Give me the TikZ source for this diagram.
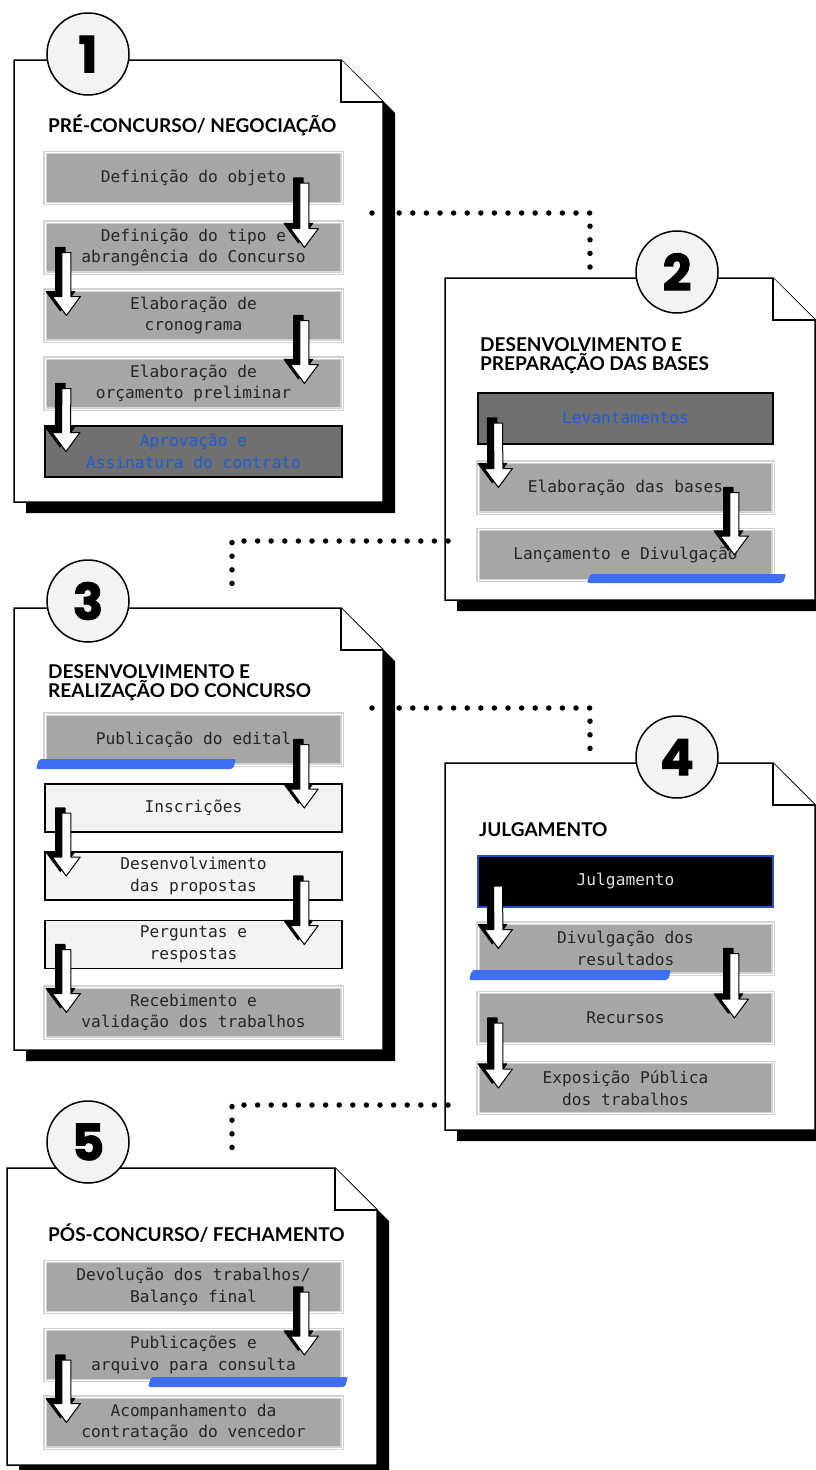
\documentclass[tikz,border=0pt]{standalone}
\usepackage{fontspec}
\usetikzlibrary{calc}
\newfontfamily\boxfont{DejaVu Sans Mono}
\newfontfamily\titlefont{Lato}
\newfontfamily\numfont{Poppins}
\definecolor{boxgray}{HTML}{A6A6A6}
\definecolor{edgegray}{HTML}{D2D2D2}
\definecolor{boxdark}{HTML}{707070}
\definecolor{boxlight}{HTML}{F3F3F3}
\definecolor{ringfill}{HTML}{F3F3F3}
\definecolor{textblue}{HTML}{1F5FD6}
\definecolor{markblue}{HTML}{3D6EF4}
\definecolor{lineblue}{HTML}{2451C4}

\newcommand{\arrowpath}[2]{($(top)+(#1-4.5,#2)$) -- ($(top)+(#1+4.5,#2)$)
  -- ($(tip)+(#1+4.5,#2-19)$) -- ($(tip)+(#1+14,#2-19)$) -- ($(tip)+(#1,#2)$)
  -- ($(tip)+(#1-14,#2-19)$) -- ($(tip)+(#1-4.5,#2-19)$) -- cycle}

\begin{document}
\begin{tikzpicture}[x=1pt,y=-1pt,
    frame/.style={fill=white,draw=black,line width=1.5,line join=miter},
    frame shadow/.style={fill=black},
    stage number/.style={circle,draw=black,line width=1.5,fill=ringfill,minimum size=82,inner sep=0,
        font=\numfont\bfseries\fontsize{50}{50}\selectfont\addfontfeature{FakeBold=2}},
    stage title/.style={anchor=south west,align=left,inner sep=0,text depth=0pt,
        font=\titlefont\bfseries\fontsize{19}{19}\selectfont},
    stage box/.style={rectangle,minimum width=297,minimum height=51,inner sep=0,align=center,
        text=black!85,font=\boxfont\fontsize{16.2}{21.5}\selectfont},
    gray box/.style={stage box,fill=boxgray,draw=edgegray,double=white,double distance=1,line width=1.2},
    dark box/.style={stage box,fill=boxdark,draw=black,line width=2,text=textblue},
    light box/.style={stage box,fill=boxlight,draw=black,line width=1.5,minimum height=48},
    blue box/.style={stage box,fill=black,draw=lineblue,line width=2,text=white!88!black},
    flow arrow/.style={fill=white,draw=black,line width=1,line join=round},
    flow shadow/.style={fill=black,draw=black,line width=1.5,line join=round},
    flow dots/.style={line width=5.5,line cap=round,dash pattern=on 0pt off 13.6pt},
    highlight/.style={fill=markblue,rounded corners=2}]

    \useasboundingbox (0,0) rectangle (816,1470);

    \foreach \l/\t/\r/\b in {14/60/383/502, 445/278/815/600, 14/608/383/1050, 445/763/815/1130, 7/1168/377/1465}{
        \fill[frame shadow] (\l+12,\t+11) -- (\r-30,\t+11) -- (\r+12,\t+53) -- (\r+12,\b+11) -- (\l+12,\b+11) -- cycle;
        \draw[frame] (\l,\t) -- (\r-42,\t) -- (\r,\t+42) -- (\r,\b) -- (\l,\b) -- cycle;
        \draw[frame] (\r-42,\t) -- (\r-42,\t+42) -- (\r,\t+42);
    }

    \node[stage number] (n1) at (88,54) {1};
    \node[stage number] (n2) at (677,272) {2};
    \node[stage number] (n3) at (88,601) {3};
    \node[stage number] (n4) at (677,757) {4};
    \node[stage number] (n5) at (88,1142) {5};

    \node[stage title] (t1) at (48,133) {PRÉ-CONCURSO/ NEGOCIAÇÃO};
    \node[stage title] (t2) at (480,371) {DESENVOLVIMENTO E\\PREPARAÇÃO DAS BASES};
    \node[stage title] (t3) at (48,698) {DESENVOLVIMENTO E\\REALIZAÇÃO DO CONCURSO};
    \node[stage title] (t4) at (479,837) {JULGAMENTO};
    \node[stage title] (t5) at (48,1242) {PÓS-CONCURSO/ FECHAMENTO};

    \node[gray box] (b11) at (193.5,178) {Definição do objeto};
    \node[gray box] (b12) at (193.5,247.5) {Definição do tipo e\\abrangência do Concurso};
    \node[gray box] (b13) at (193.5,315.5) {Elaboração de\\cronograma};
    \node[gray box] (b14) at (193.5,383.5) {Elaboração de\\orçamento preliminar};
    \node[dark box] (b15) at (193.5,451.5) {Aprovação e\\Assinatura do contrato};

    \node[dark box, minimum width=295] (b21) at (625.5,418) {Levantamentos};
    \node[gray box, minimum width=295] (b22) at (625.5,487.5) {Elaboração das bases};
    \node[gray box, minimum width=295] (b23) at (625.5,555) {Lançamento e Divulgação};

    \node[gray box] (b31) at (193.5,739.5) {Publicação do edital};
    \node[light box] (b32) at (193.5,808) {Inscrições};
    \node[light box] (b33) at (193.5,876) {Desenvolvimento\\das propostas};
    \node[light box] (b34) at (193.5,944.5) {Perguntas e\\respostas};
    \node[gray box] (b35) at (193.5,1012.5) {Recebimento e\\validação dos trabalhos};

    \node[blue box, minimum width=295] (b41) at (625.5,881) {Julgamento};
    \node[gray box, minimum width=295] (b42) at (625.5,948.5) {Divulgação dos\\resultados};
    \node[gray box, minimum width=295] (b43) at (625.5,1018) {Recursos};
    \node[gray box, minimum width=295] (b44) at (625.5,1088) {Exposição Pública\\dos trabalhos};

    \node[gray box] (b51) at (193.5,1287) {Devolução dos trabalhos/\\Balanço final};
    \node[gray box] (b52) at (193.5,1355) {Publicações e\\arquivo para consulta};
    \node[gray box] (b53) at (193.5,1422.5) {Acompanhamento da\\contratação do vencedor};

    \foreach \a/\b/\dx in {b11/b12/260, b12/b13/22, b13/b14/260, b14/b15/22, b21/b22/21, b22/b23/257,
            b31/b32/260, b32/b33/22, b33/b34/260, b34/b35/22, b41/b42/21, b42/b43/257, b43/b44/21,
            b51/b52/260, b52/b53/22}{
        \coordinate (top) at ($(\a.west)+(\dx,5)$);
        \coordinate (tip) at ($(\b.west)+(\dx,0)$);
        \filldraw[flow shadow] \arrowpath{-6}{-5};
        \filldraw[flow arrow] \arrowpath{0}{0};
    }

    \fill[highlight] (590,574) -- (786,574) -- (783,583) -- (587,583) -- cycle;
    \fill[highlight] (39,759) -- (236,759) -- (233,769) -- (36,769) -- cycle;
    \fill[highlight] (472,970) -- (671,970) -- (668,980) -- (469,980) -- cycle;
    \fill[highlight] (151,1377) -- (348,1377) -- (345,1387) -- (148,1387) -- cycle;

    \coordinate (c12) at (372,213);
    \coordinate (c21) at (590,269);
    \coordinate (c23) at (448,541);
    \coordinate (c32) at (232,596);
    \coordinate (c34) at (372,708);
    \coordinate (c43) at (590,751);
    \coordinate (c45) at (448,1105);
    \coordinate (c54) at (232,1160);
    \draw[flow dots] (c12) -| (c21);
    \draw[flow dots] (c23) -| (c32);
    \draw[flow dots] (c34) -| (c43);
    \draw[flow dots] (c45) -| (c54);
\end{tikzpicture}
\end{document}
